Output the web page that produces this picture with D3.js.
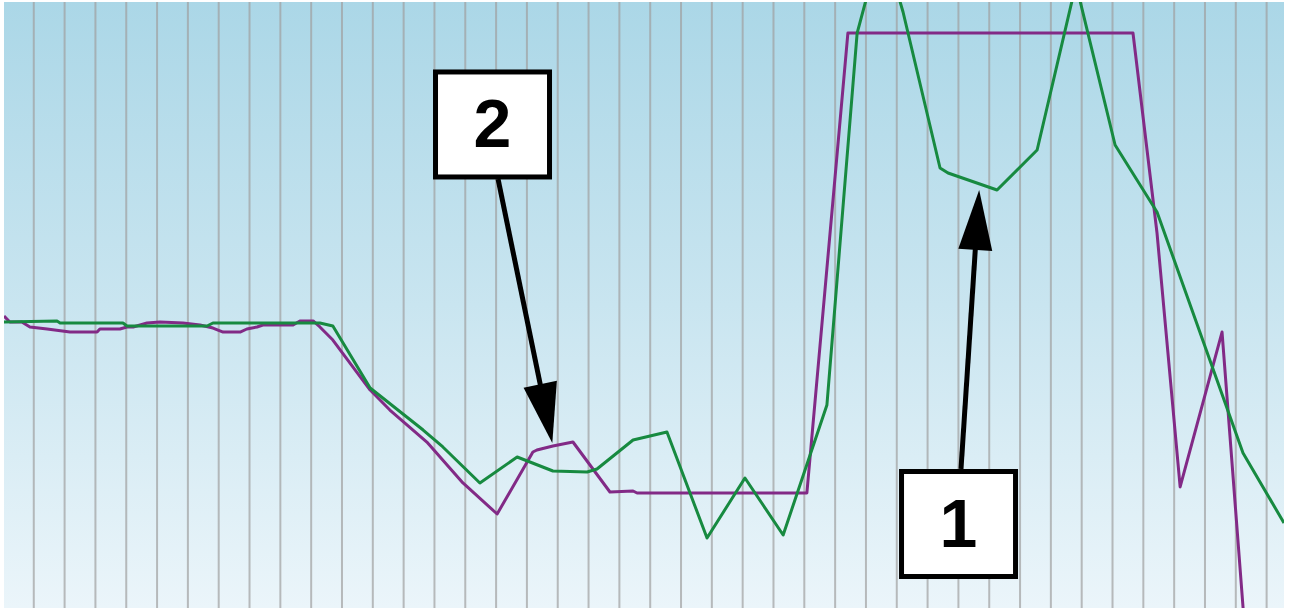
<!DOCTYPE html>
<html>
<head>
<meta charset="utf-8">
<script src="https://cdn.jsdelivr.net/npm/d3@7"></script>
<style>
  html, body { margin: 0; padding: 0; background: #ffffff; }
  svg { display: block; }
</style>
</head>
<body>
<svg id="chart" width="1289" height="610"></svg>
<script>
// ---- data (time in s, value in %) ----
const purpleT = [-0.95,-0.76,-0.37,-0.11,0.45,1.19,2.07,2.16,2.81,3.04,3.24,3.69,4.11,4.86,5.41,5.83,6.16,6.71,6.93,7.26,7.45,8.43,8.65,9.08,9.30,9.72,10.93,11.57,12.77,13.94,15.05,16.21,16.34,16.86,17.51,18.71,19.46,19.59,25.10,26.43,35.68,36.46,37.21,38.57,39.25,39.58];
const purpleV = [48.18,47.19,47.19,46.37,46.04,45.54,45.54,46.04,46.04,46.37,46.37,47.03,47.19,47.03,46.70,46.20,45.54,45.54,46.04,46.37,46.70,46.70,47.36,47.36,46.37,44.22,35.97,32.67,27.39,20.63,15.51,25.74,26.07,26.73,27.39,19.14,19.31,18.98,18.98,94.88,94.88,61.88,19.97,45.54,0.17,-21.78];

const greenT = [-0.95,0.77,0.87,2.91,3.04,5.64,5.83,9.30,9.72,10.93,12.65,13.29,14.49,15.70,16.86,17.97,18.29,19.46,20.56,21.86,23.09,24.33,25.75,26.73,27.54,28.22,29.42,29.68,31.27,32.57,33.83,35.10,36.46,39.25,40.58];
const greenV = [47.19,47.36,47.03,47.03,46.53,46.53,47.03,47.03,46.53,36.30,29.37,26.57,20.63,24.92,22.61,22.44,22.94,27.72,29.04,11.55,21.45,12.05,33.50,94.88,110.23,98.35,72.61,71.78,68.98,75.58,102.97,76.40,65.35,25.58,14.03];

const gridTicks = d3.range(0, 41);

// callouts: label, box centre, arrow start, arrow tip (t, v)
const calloutLabels = ["1", "2"];
const calloutBoxT   = [30.02, 14.90];
const calloutBoxV   = [13.86, 79.79];
const calloutFromT  = [30.10, 15.08];
const calloutFromV  = [22.94, 70.79];
const calloutTipT   = [30.69, 16.84];
const calloutTipV   = [68.98, 27.23];

// ---- layout ----
const svg = d3.select("#chart");
const pLeft = 4, pRight = 1284, pTop = 2, pBottom = 608;

const x = d3.scaleLinear().domain([-0.95, 40.58]).range([pLeft, pRight]);
const y = d3.scaleLinear().domain([0, 100]).range([pBottom, pBottom - 606]);

const defs = svg.append("defs");
const grad = defs.append("linearGradient").attr("id", "bg")
  .attr("x1", 0).attr("y1", 0).attr("x2", 0).attr("y2", 1);
grad.append("stop").attr("offset", "0%").attr("stop-color", "#abd7e7");
grad.append("stop").attr("offset", "50%").attr("stop-color", "#c9e5f0");
grad.append("stop").attr("offset", "100%").attr("stop-color", "#ebf5fa");

defs.append("clipPath").attr("id", "plotclip")
  .append("rect").attr("x", pLeft).attr("y", pTop)
  .attr("width", pRight - pLeft).attr("height", pBottom - pTop);

svg.append("rect").attr("x", pLeft).attr("y", pTop)
  .attr("width", pRight - pLeft).attr("height", pBottom - pTop)
  .attr("fill", "url(#bg)");

// vertical grid lines via axis
const gridAxis = d3.axisBottom(x).tickValues(gridTicks)
  .tickSize(-(pBottom - pTop)).tickFormat("");
const gg = svg.append("g").attr("transform", `translate(0,${pBottom})`).call(gridAxis);
gg.select(".domain").remove();
gg.selectAll(".tick line")
  .attr("stroke", "rgba(160,160,160,0.7)")
  .attr("stroke-width", 2);

// lines
const plot = svg.append("g").attr("clip-path", "url(#plotclip)");
const line = d3.line().x(d => x(d[0])).y(d => y(d[1]));

const purple = purpleT.map((t, i) => [t, purpleV[i]]);
const green = greenT.map((t, i) => [t, greenV[i]]);

plot.append("path").datum(purple).attr("d", line)
  .attr("fill", "none").attr("stroke", "#822a86").attr("stroke-width", 3)
  .attr("stroke-linejoin", "round");
plot.append("path").datum(green).attr("d", line)
  .attr("fill", "none").attr("stroke", "#178a40").attr("stroke-width", 3)
  .attr("stroke-linejoin", "round");

// callouts
const boxW = 119, boxH = 110, bw = 5;
const headLen = 60, headHalf = 17;
calloutLabels.forEach((lab, i) => {
  const fx = x(calloutFromT[i]), fy = y(calloutFromV[i]);
  const tx = x(calloutTipT[i]), ty = y(calloutTipV[i]);
  const dx = tx - fx, dy = ty - fy, len = Math.hypot(dx, dy);
  const ux = dx / len, uy = dy / len;
  const bx = tx - ux * headLen, by = ty - uy * headLen;
  const g = svg.append("g");
  g.append("line").attr("x1", fx).attr("y1", fy)
    .attr("x2", bx + ux * 2).attr("y2", by + uy * 2)
    .attr("stroke", "#000").attr("stroke-width", 5);
  g.append("polygon")
    .attr("points", [[tx, ty], [bx - uy * headHalf, by + ux * headHalf], [bx + uy * headHalf, by - ux * headHalf]].map(p => p.join(",")).join(" "))
    .attr("fill", "#000");
  const cx = x(calloutBoxT[i]), cy = y(calloutBoxV[i]);
  g.append("rect")
    .attr("x", cx - boxW / 2 + bw / 2).attr("y", cy - boxH / 2 + bw / 2)
    .attr("width", boxW - bw).attr("height", boxH - bw)
    .attr("fill", "#ffffff").attr("stroke", "#000").attr("stroke-width", bw);
  g.append("text").attr("x", cx).attr("y", cy + 23)
    .attr("text-anchor", "middle")
    .attr("font-family", "'Liberation Sans', Arial, sans-serif")
    .attr("font-weight", "bold").attr("font-size", 68)
    .attr("fill", "#000").text(lab);
});
</script>
</body>
</html>
